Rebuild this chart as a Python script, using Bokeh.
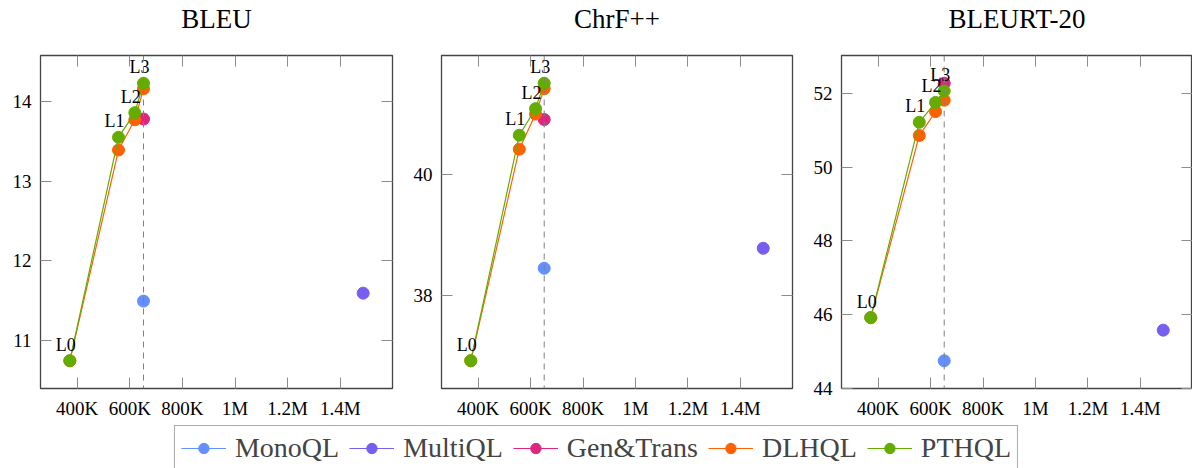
from bokeh.plotting import figure
from bokeh.models import (FixedTicker, Span, Legend, LegendItem, LinearAxis, Range1d)
from bokeh.layouts import row, column
from bokeh.core.properties import value
from bokeh.embed import file_html
from bokeh.resources import INLINE

# ---------------- data ----------------
level_labels = ["L0", "L1", "L2", "L3"]
level_sizes = [372000, 557000, 619000, 652000]
mono_size = 652000
multi_size = 1487000
gentrans_size = 652000

metrics = ["BLEU", "ChrF++", "BLEURT-20"]

bleu_mono = 11.49
bleu_multi = 11.59
bleu_gentrans = 13.78
bleu_dlhql = [10.74, 13.39, 13.77, 14.16]
bleu_pthql = [10.74, 13.55, 13.86, 14.23]

chrf_mono = 38.45
chrf_multi = 38.78
chrf_gentrans = 40.91
chrf_dlhql = [36.92, 40.42, 41.00, 41.42]
chrf_pthql = [36.92, 40.65, 41.09, 41.51]

bleurt_mono = 44.75
bleurt_multi = 45.58
bleurt_gentrans = 52.28
bleurt_dlhql = [45.92, 50.86, 51.51, 51.82]
bleurt_pthql = [45.92, 51.22, 51.76, 52.07]

bleu_yticks = [11, 12, 13, 14]
chrf_yticks = [38, 40]
bleurt_yticks = [44, 46, 48, 50, 52]

x_ticks = [400000, 600000, 800000, 1000000, 1200000, 1400000]
x_tick_labels = ["400K", "600K", "800K", "1M", "1.2M", "1.4M"]

series_names = ["MonoQL", "MultiQL", "Gen&Trans", "DLHQL", "PTHQL"]
series_colors = ["#648FFF", "#785EF0", "#DC267F", "#FE6100", "#64AC00"]

SERIF = "Liberation Serif"
TICK_COLOR = "#8c8c8c"
FRAME_COLOR = "#444444"
NAN = float("nan")

PAGE_W = 1192
HEADER_H = 40
TITLE_FROM_TOP = 18
FRAME_H = 333
# (frame width, left border, right border) of the three panels
PANEL_GEOM = [(352, 40, 8), (351, 41, 8), (351, 41, 0)]


def enlarge(vals, frac=0.1):
    lo, hi = min(vals), max(vals)
    d = (hi - lo) * frac
    return lo - d, hi + d


def style_axis(ax, ticks, labels=None):
    ax.ticker = FixedTicker(ticks=ticks)
    ax.axis_line_color = None
    ax.major_tick_in = 11
    ax.major_tick_out = 0
    ax.major_tick_line_color = TICK_COLOR
    ax.major_tick_line_width = 1
    ax.minor_tick_line_color = None
    ax.major_label_text_font = SERIF
    ax.major_label_text_color = "black"
    if labels is not None:
        ax.major_label_overrides = {t: l for t, l in zip(ticks, labels)}
        ax.major_label_text_font_size = "19px"
        ax.major_label_standoff = 9
    else:
        ax.major_label_overrides = {t: "" for t in ticks}
        ax.major_label_text_font_size = "1px"
        ax.major_label_standoff = 0


def make_panel(mono, multi, gen, dl, pt, yticks, geom):
    frame_w, bl, br = geom
    all_x = level_sizes + [mono_size, multi_size, gentrans_size]
    x0, x1 = enlarge(all_x)
    y0, y1 = enlarge(dl + pt + [mono, multi, gen])

    p = figure(frame_width=frame_w, frame_height=FRAME_H,
               min_border_left=bl, min_border_right=br,
               min_border_top=55 - HEADER_H, min_border_bottom=30,
               x_range=Range1d(x0, x1), y_range=Range1d(y0, y1),
               output_backend="svg", toolbar_location=None)
    p.outline_line_color = FRAME_COLOR
    p.outline_line_width = 1.3
    p.grid.visible = False

    style_axis(p.xaxis[0], x_ticks, x_tick_labels)
    style_axis(p.yaxis[0], yticks, [str(t) for t in yticks])
    top = LinearAxis()
    right = LinearAxis()
    style_axis(top, x_ticks)
    style_axis(right, yticks)
    p.add_layout(top, "above")
    p.add_layout(right, "right")

    p.add_layout(Span(location=mono_size, dimension="height",
                      line_color="#808080", line_width=1, line_dash="6 5"))

    c = series_colors
    p.scatter([mono_size], [mono], size=12, color=c[0])
    p.scatter([multi_size], [multi], size=12, color=c[1])
    p.scatter([gentrans_size], [gen], size=12, color=c[2])
    p.line(level_sizes, dl, color=c[3], line_width=1.2)
    p.scatter(level_sizes, dl, size=12, color=c[3])
    p.line(level_sizes, pt, color=c[4], line_width=1.2)
    p.scatter(level_sizes, pt, size=12, color=c[4])

    p.text(x=level_sizes, y=pt, text=level_labels,
           text_font=value(SERIF), text_font_size="18px",
           text_align="right", text_baseline="middle",
           x_offset=6, y_offset=-16, text_color="black")
    return p


p1 = make_panel(bleu_mono, bleu_multi, bleu_gentrans,
                bleu_dlhql, bleu_pthql, bleu_yticks, PANEL_GEOM[0])
p2 = make_panel(chrf_mono, chrf_multi, chrf_gentrans,
                chrf_dlhql, chrf_pthql, chrf_yticks, PANEL_GEOM[1])
p3 = make_panel(bleurt_mono, bleurt_multi, bleurt_gentrans,
                bleurt_dlhql, bleurt_pthql, bleurt_yticks, PANEL_GEOM[2])

# header strip with the three panel titles, centred over each frame
header = figure(width=PAGE_W, height=HEADER_H, min_border=0,
                toolbar_location=None, output_backend="svg",
                x_range=Range1d(0, PAGE_W), y_range=Range1d(0, HEADER_H),
                x_axis_location=None, y_axis_location=None)
header.outline_line_color = None
header.grid.visible = False
centers = []
left = 0
for fw, bl, br in PANEL_GEOM:
    centers.append(left + bl + fw / 2)
    left += bl + fw + br
header.text(x=centers, y=[HEADER_H - TITLE_FROM_TOP] * len(centers), text=metrics,
            text_font=value(SERIF), text_font_size="27px",
            text_align="center", text_baseline="middle",
            text_color="black")

# legend strip
leg = figure(width=PAGE_W, height=50, min_border=0, toolbar_location=None,
             output_backend="svg", x_range=Range1d(0, 1), y_range=Range1d(0, 1),
             x_axis_location=None, y_axis_location=None)
leg.outline_line_color = None
leg.grid.visible = False
items = []
for name, color in zip(series_names, series_colors):
    r1 = leg.line([NAN], [NAN], color=color, line_width=1.2)
    r2 = leg.scatter([NAN], [NAN], color=color, size=10)
    items.append(LegendItem(label=name, renderers=[r1, r2]))
legend = Legend(items=items, orientation="horizontal", location="top_center",
                margin=4, padding=6, spacing=10, label_standoff=9,
                glyph_width=45, glyph_height=26, label_height=26,
                label_text_font=SERIF, label_text_font_size="28px",
                border_line_color="#555555", border_line_width=1.5,
                background_fill_color="white", background_fill_alpha=1.0)
leg.add_layout(legend, "center")

layout = column(header, row(p1, p2, p3), leg)

open("out.html", "w").write(file_html(layout, INLINE))
